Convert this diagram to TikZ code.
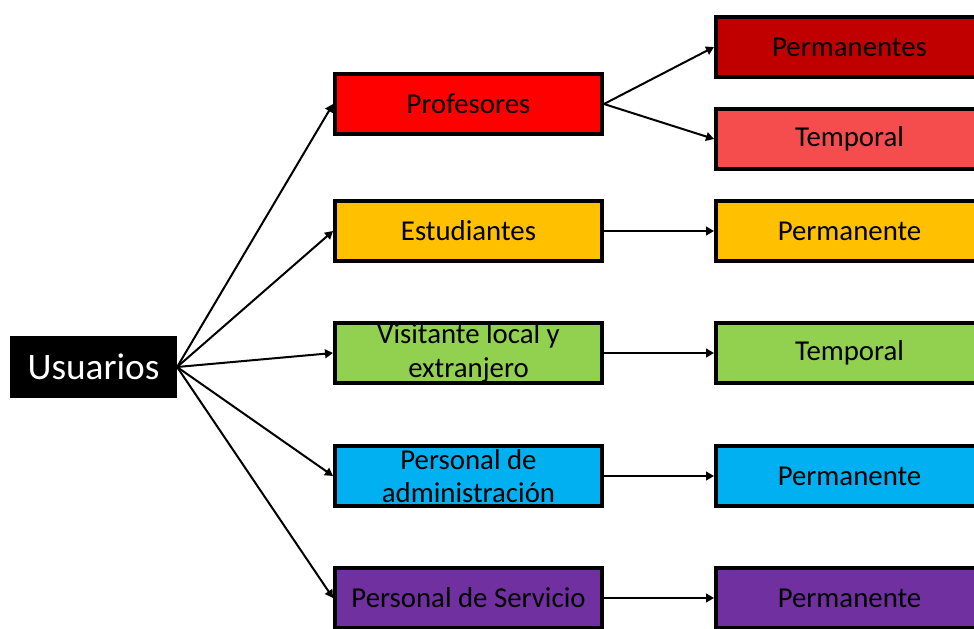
\documentclass[tikz,border=0pt]{standalone}
\usepackage{fontspec}
\setmainfont{Carlito}
\usetikzlibrary{arrows.meta}
\definecolor{cProf}{HTML}{FF0000}
\definecolor{cPerm}{HTML}{C00000}
\definecolor{cTemp}{HTML}{F54D4D}
\definecolor{cEst}{HTML}{FFC000}
\definecolor{cVis}{HTML}{92D050}
\definecolor{cAdm}{HTML}{00B0F0}
\definecolor{cServ}{HTML}{7030A0}
\tikzset{
  box/.style={draw=black,line width=3.2pt,minimum width=200pt,minimum height=45pt,
    inner sep=0pt,align=center,font=\fontsize{21.6}{25}\selectfont},
  arr/.style={draw=black,line width=1.5pt,-{Triangle[length=6pt,width=6.5pt]}}
}

\begin{document}
\begin{tikzpicture}[x=0.75pt,y=-0.75pt]
\useasboundingbox (0,0) rectangle (974,628);
\clip (0,0) rectangle (974,628);
% root:
\node[fill=black,text=white,minimum width=125pt,minimum height=46.5pt,inner sep=0pt,
  font=\fontsize{28}{32}\selectfont] (us) at (93.5,367) {Usuarios};
% middle boxes:
\node[box,fill=cProf] (prof) at (468.5,104) {Profesores};
\node[box,fill=cEst] (est) at (468.5,231) {Estudiantes};
\node[box,fill=cVis] (vis) at (468.5,353) {Visitante local y\\extranjero};
\node[box,fill=cAdm] (adm) at (468.5,476) {Personal de\\administración};
\node[box,fill=cServ] (serv) at (468.5,598) {Personal de Servicio};
% right boxes:
\node[box,fill=cPerm] (profperm) at (849.5,47) {Permanentes};
\node[box,fill=cTemp] (proftemp) at (849.5,139) {Temporal};
\node[box,fill=cEst] (estperm) at (849.5,231) {Permanente};
\node[box,fill=cVis] (vistemp) at (849.5,353) {Temporal};
\node[box,fill=cAdm] (admperm) at (849.5,476) {Permanente};
\node[box,fill=cServ] (servperm) at (849.5,598) {Permanente};
% arrows:
\draw[arr] (us.east) -- (prof.west);
\draw[arr] (us.east) -- (est.west);
\draw[arr] (us.east) -- (vis.west);
\draw[arr] (us.east) -- (adm.west);
\draw[arr] (us.east) -- (serv.west);
\draw[arr] (prof.east) -- (profperm.west);
\draw[arr] (prof.east) -- (proftemp.west);
\draw[arr] (est.east) -- (estperm.west);
\draw[arr] (vis.east) -- (vistemp.west);
\draw[arr] (adm.east) -- (admperm.west);
\draw[arr] (serv.east) -- (servperm.west);
\end{tikzpicture}
\end{document}
